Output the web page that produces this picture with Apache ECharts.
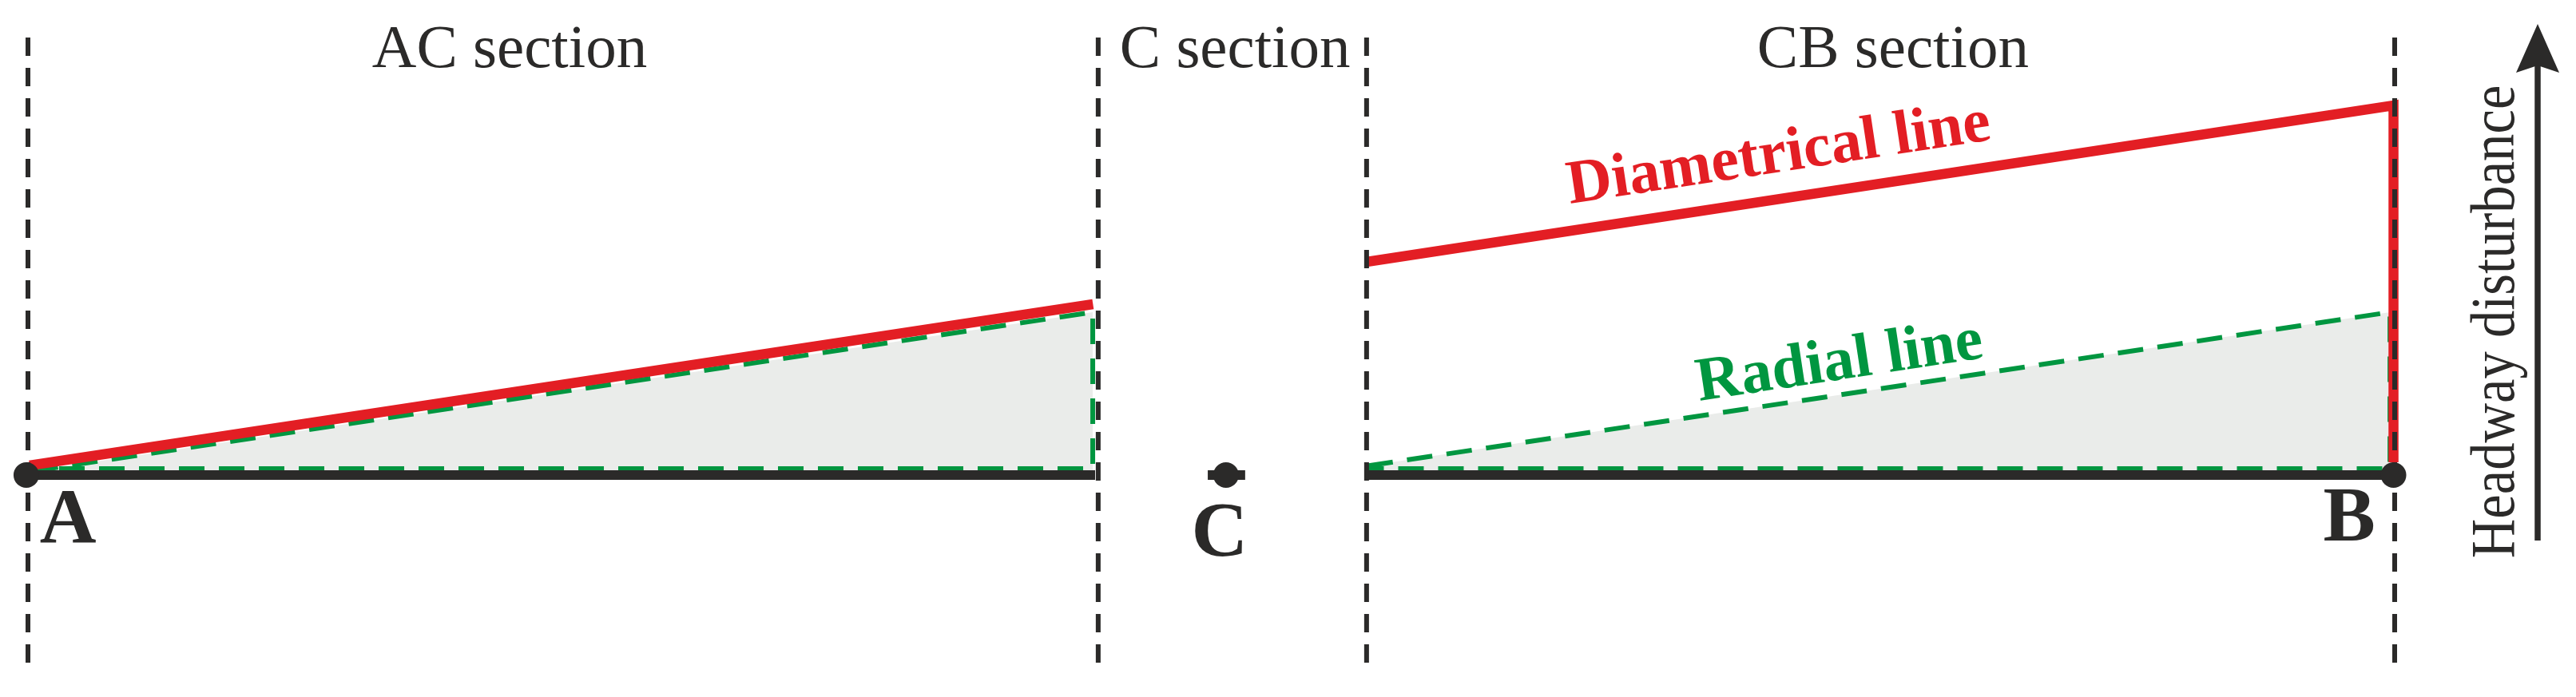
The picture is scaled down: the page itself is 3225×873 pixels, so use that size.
<!DOCTYPE html>
<html><head><meta charset="utf-8">
<script src="https://cdn.jsdelivr.net/npm/echarts@6/dist/echarts.min.js"></script>
<style>html,body{margin:0;padding:0;background:#fff}#c{width:3225px;height:873px}</style>
</head><body><div id="c"></div>
<script>
// x: position along the route (A = 0, B = 100); y: headway disturbance (track baseline = 0)
const sectionNames = ['AC section', 'C section', 'CB section'];
const sectionLabelPos = [[20.35, 53.1], [51.0, 53.1], [78.8, 53.1]];
const dividerX = [0, 45.22, 56.56, 100];
const dividerSpan = [54.8, -24.3];
const stationNames = ['A', 'C', 'B'];
const stationX = [-0.07, 50.62, 99.95];
const stationLabelPos = [[1.69, -5.9], [50.35, -7.6], [98.08, -5.7]];
const trackSegments = [[[0, 0], [45.09, 0]], [[49.85, 0], [51.43, 0]], [[56.56, 0], [100, 0]]];
const diametricalAC = [[0.07, 1.2], [45.0, 21.4]];
const diametricalCB = [[56.56, 26.7], [99.95, 46.3], [99.95, 1.6]];
const radialAC = [[0.2, 0.5], [44.99, 20.4], [44.99, 0.8], [0.2, 0.8]];
const radialCB = [[56.6, 1.15], [99.8, 20.4], [99.8, 0.8], [56.6, 0.8]];
const fillAC = [[0.2, 0.5], [44.99, 20.4]];
const fillCB = [[56.6, 1.15], [99.8, 20.4]];
const lineNames = ['Diametrical line', 'Radial line'];
const lineLabelPos = [[73.98, 40.0], [76.55, 14.0]];
const axisTitle = 'Headway disturbance';

const INK = '#2b2a29', RED = '#e31e24', GREEN = '#009640', FILL = '#eaecea';
const SERIF = '"Liberation Serif", "Times New Roman", serif';

const series = [];
function line(data, color, width, dashed, z, extra) {
  series.push(Object.assign({
    type: 'line', data: data, symbol: 'none', silent: true, z: z, clip: false,
    lineStyle: { color: color, width: width, type: dashed || 'solid', cap: 'butt', join: 'miter' }
  }, extra || {}));
}
[fillAC, fillCB].forEach(d => line(d, FILL, 0, null, 1, { areaStyle: { color: FILL, opacity: 1 }, lineStyle: { width: 0, opacity: 0 } }));
[radialAC, radialCB].forEach(d => line(d, GREEN, 6, [32, 18], 2));
[diametricalAC, diametricalCB].forEach(d => line(d, RED, 12.5, null, 3));
trackSegments.forEach(d => line(d, INK, 12, null, 4));
dividerX.forEach(x => line([[x, dividerSpan[0]], [x, dividerSpan[1]]], INK, 6, [23, 15], 5));

function labelSeries(data, label, z) {
  series.push({
    type: 'scatter', silent: true, z: z, symbolSize: 0, clip: false,
    itemStyle: { opacity: 1 },
    data: data,
    label: Object.assign({ show: true, position: 'inside', formatter: p => p.name, opacity: 1,
      fontFamily: SERIF, align: 'center', verticalAlign: 'middle' }, label)
  });
}
series.push({
  type: 'scatter', silent: true, z: 6, symbolSize: 32, clip: false,
  itemStyle: { color: INK, opacity: 1 },
  data: stationX.map(x => [x, 0])
});
labelSeries(stationNames.map((n, i) => ({ value: stationLabelPos[i], name: n })),
  { color: INK, fontWeight: 'bold', fontSize: 98 }, 7);
labelSeries(sectionNames.map((n, i) => ({ value: sectionLabelPos[i], name: n })),
  { color: INK, fontSize: 77 }, 7);
labelSeries(lineNames.map((n, i) => ({ value: lineLabelPos[i], name: n, label: { color: i === 0 ? RED : GREEN } })),
  { rotate: 8.6, fontWeight: 'bold', fontSize: 78 }, 7);

const option = {
  animation: false,
  backgroundColor: '#ffffff',
  grid: { left: 35, right: 227, top: 45, bottom: 28, containLabel: false },
  xAxis: { type: 'value', min: 0, max: 100, show: false },
  yAxis: { type: 'value', min: -25, max: 55, show: false },
  series: series,
  graphic: [
    { type: 'line', silent: true, shape: { x1: 3177, y1: 677, x2: 3177, y2: 80 },
      style: { stroke: INK, lineWidth: 7.5 } },
    { type: 'polygon', silent: true, shape: { points: [[3177, 30], [3204, 91], [3177, 82], [3150, 91]] },
      style: { fill: INK } },
    { type: 'text', silent: true, x: 3127, y: 403, rotation: Math.PI / 2, scaleX: 0.88,
      style: { text: axisTitle, fill: INK, font: '78px ' + SERIF, align: 'center', verticalAlign: 'middle' } }
  ]
};
const chart = echarts.init(document.getElementById('c'), null, { renderer: 'canvas' });
chart.setOption(option);
</script></body></html>
